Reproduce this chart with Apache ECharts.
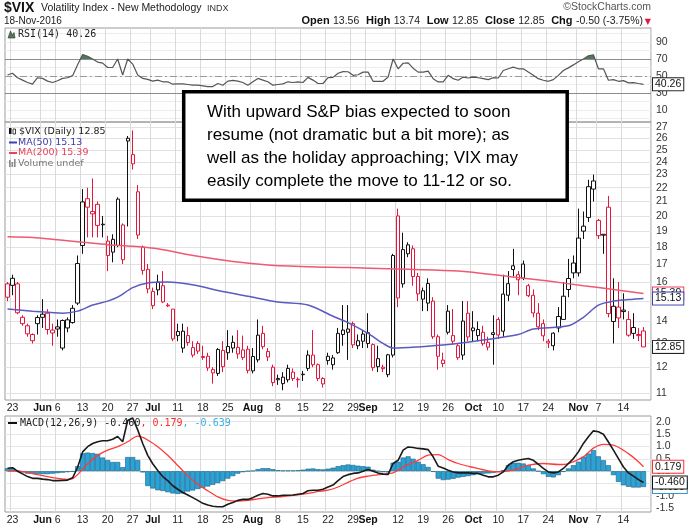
<!DOCTYPE html>
<html>
<head>
<meta charset="utf-8">
<title>$VIX daily</title>
<script src="https://cdn.jsdelivr.net/npm/echarts@6/dist/echarts.min.js"></script>
<style>
  html, body { margin: 0; padding: 0; background: #fff; }
  #VixChart { width: 700px; height: 530px; }
</style>
</head>
<body>
<div id="VixChart"></div>
<script>
// trading days shown on the chart (2016)
var dates = ['05-20','05-23','05-24','05-25','05-26','05-27','05-31',
  '06-01','06-02','06-03','06-06','06-07','06-08','06-09','06-10','06-13','06-14','06-15','06-16','06-17','06-20','06-21','06-22','06-23','06-24','06-27','06-28','06-29','06-30',
  '07-01','07-05','07-06','07-07','07-08','07-11','07-12','07-13','07-14','07-15','07-18','07-19','07-20','07-21','07-22','07-25','07-26','07-27','07-28','07-29',
  '08-01','08-02','08-03','08-04','08-05','08-08','08-09','08-10','08-11','08-12','08-15','08-16','08-17','08-18','08-19','08-22','08-23','08-24','08-25','08-26','08-29','08-30','08-31',
  '09-01','09-02','09-06','09-07','09-08','09-09','09-12','09-13','09-14','09-15','09-16','09-19','09-20','09-21','09-22','09-23','09-26','09-27','09-28','09-29','09-30',
  '10-03','10-04','10-05','10-06','10-07','10-10','10-11','10-12','10-13','10-14','10-17','10-18','10-19','10-20','10-21','10-24','10-25','10-26','10-27','10-28','10-31',
  '11-01','11-02','11-03','11-04','11-07','11-08','11-09','11-10','11-11','11-14','11-15','11-16','11-17','11-18'];

var opens = [15.9,16.2,15.9,14.2,13.8,13.4,13.9,14.35,14.4,13.6,
  13.75,12.8,13.7,13.95,14.9,18.1,21.2,20.3,20.8,19.45,
  17.5,17.7,18.1,19.4,26.0,24.6,21.7,18.0,16.7,15.5,
  16.0,15.8,14.8,14.6,13.35,12.8,13.35,12.5,13.0,12.4,
  12.45,11.9,11.75,12.7,12.6,12.8,12.55,12.4,12.75,11.85,
  12.3,13.45,12.65,12.0,11.55,11.35,11.5,11.8,11.52,11.72,
  11.95,12.5,12.1,11.55,12.45,12.1,12.6,13.4,13.5,13.9,
  12.9,13.1,13.0,12.95,12.35,12.0,11.7,12.5,20.0,15.9,
  17.6,17.9,16.3,15.1,14.9,15.0,13.3,12.15,13.5,13.35,
  12.9,12.5,14.4,13.7,13.35,13.5,13.05,13.4,14.1,13.55,
  15.3,16.9,16.4,17.0,15.8,15.3,14.4,13.9,13.1,12.9,
  13.7,14.1,15.6,16.5,16.5,19.0,19.9,21.9,19.7,18.8,
  20.6,14.0,14.7,14.55,14.1,13.45,13.4,13.56];
var closes = [15.2,15.82,14.42,13.90,13.43,13.12,14.19,14.20,13.63,13.47,
  13.65,14.05,14.08,14.64,17.03,20.97,20.6,20.14,19.37,19.41,
  18.37,18.48,21.17,17.25,25.76,23.85,18.75,16.64,15.63,14.77,
  15.58,14.96,14.76,13.20,13.54,13.55,13.04,12.82,12.67,12.44,
  11.97,11.77,12.74,12.02,12.87,13.05,12.83,12.72,11.87,12.44,
  13.37,12.86,12.42,11.39,11.50,11.6,11.95,11.55,11.5,11.7,
  12.5,12.1,11.55,11.34,12.27,12.38,13.45,13.6,13.65,12.94,
  13.12,13.42,13.48,11.98,12.02,11.94,12.51,17.50,15.16,17.85,
  18.14,16.30,15.37,15.53,15.92,13.30,12.45,12.29,14.50,13.10,
  12.39,14.02,13.29,13.57,13.63,12.99,12.84,13.48,13.38,15.36,
  15.91,16.69,16.12,16.21,15.28,14.41,13.75,13.34,13.02,13.46,
  14.24,15.25,16.19,17.06,18.56,19.32,22.08,22.51,18.71,18.74,
  14.38,14.74,14.17,14.48,13.37,13.72,13.35,12.85];
var lows = [15.0,15.3,14.35,13.8,13.3,13.0,13.4,13.7,13.4,12.9,
  13.3,12.7,13.5,13.9,14.8,17.6,18.6,18.6,18.6,18.6,
  16.6,17.1,18.0,17.0,19.3,23.4,18.5,16.4,15.4,14.6,
  15.3,14.9,14.7,13.1,13.1,12.6,12.9,12.4,12.55,12.3,
  11.85,11.35,11.65,11.8,12.3,12.6,12.35,12.3,11.75,11.75,
  12.2,12.75,12.25,11.25,11.3,11.1,11.4,11.45,11.2,11.45,
  11.85,12.0,11.45,11.2,12.1,11.9,12.55,12.9,12.3,12.8,
  12.75,12.8,12.8,11.85,11.8,11.8,11.6,12.4,14.7,15.7,
  17.4,15.8,15.0,14.5,14.5,13.2,11.9,12.0,13.4,12.95,
  12.3,12.3,13.1,13.1,13.1,12.9,12.7,12.1,13.2,13.3,
  15.0,16.3,15.3,16.1,15.2,14.2,13.6,13.1,12.8,12.7,
  13.5,14.1,15.2,16.2,16.3,18.5,19.6,21.0,18.5,17.6,
  14.2,13.0,13.7,14.1,13.3,13.2,13.1,12.85];
var highs = [16.0,16.4,16.0,14.3,13.9,13.45,14.3,15.1,14.6,13.9,
  14.1,14.1,14.2,14.8,17.5,21.9,22.0,22.7,21.0,20.0,
  18.7,18.8,21.3,19.5,26.2,26.7,22.2,18.1,17.0,15.7,
  16.4,16.6,14.9,14.6,13.9,13.9,13.75,13.1,13.1,12.9,
  12.6,12.0,12.8,13.1,13.6,13.35,13.6,13.35,12.9,12.8,
  14.1,13.8,12.8,12.1,11.7,11.8,12.1,11.95,11.6,11.85,
  12.7,13.6,12.15,11.6,12.6,12.5,13.7,14.8,14.8,14.0,
  13.4,13.6,14.4,13.0,12.9,12.1,12.55,17.6,20.5,18.9,
  18.3,18.1,16.5,15.7,16.2,15.2,13.4,12.6,14.8,14.6,
  13.0,15.0,15.0,14.5,14.0,13.8,13.3,14.3,14.2,16.4,
  16.6,17.9,16.6,17.2,15.9,15.6,14.9,14.1,13.2,13.5,
  14.7,16.0,17.3,17.5,20.5,20.3,22.6,23.0,19.8,18.8,
  21.4,16.2,16.0,15.4,14.5,14.4,13.7,13.74];

// moving averages, [day index, value]
var ma50 = [[0,14.6],[5,14.5],[11,14.4],[14,14.5],[17,14.8],[20,15.0],[22,15.2],[25,15.7],[28,15.95],[32,16.0],
  [38,15.8],[42,15.55],[48,15.25],[54,14.95],[60,14.8],[65,14.25],[68,13.95],[72,13.45],[75,13.0],[77,12.8],
  [82,12.85],[88,12.95],[95,13.15],[102,13.4],[105,13.65],[112,13.8],[115,14.2],[118,14.8],[121,15.0],[125,15.1],[127,15.13]];
var ma200 = [[0,18.65],[5,18.6],[10,18.45],[15,18.3],[20,18.15],[25,18.05],[30,17.9],[38,17.45],[45,17.15],[52,16.95],
  [60,16.85],[68,16.8],[80,16.7],[90,16.6],[100,16.3],[108,16.05],[115,15.8],[121,15.6],[127,15.39]];

var rsi = [51.2,53.2,48,45.2,42.4,40.4,48,47.2,44,42.4,
  44.4,47.2,48,50.4,63.2,75.2,73.2,70,66.4,65.2,
  60,60,70,51.2,70,64,51.2,47.2,46,44,
  45.2,43.2,43.2,40.4,40.8,40.8,40,39.2,39.2,38.4,
  37.6,37.6,41.2,39.2,44,44.8,44,42.4,39.2,43.2,
  47.2,45.2,43.2,39.2,40,40.8,43.2,42.4,43.2,42.4,
  48.4,45.2,41.2,41.2,48,48.4,53.2,55.2,55,50.8,
  51.5,54.6,54.6,43.8,43.8,43.8,48.8,70,58.5,65,
  65.4,59.2,54.6,54.6,55.8,46.9,43,43,50.8,46.9,
  45,48.8,47.7,48.8,48,46.9,45.8,48,47.7,56.5,
  58.5,60.4,58.5,58.5,54.6,50.8,46.9,45,43.8,45.8,
  50.8,56.5,59.6,63.1,66.9,70,73.8,75,58.5,58.5,
  45,45.8,43.8,44.6,41.9,42.3,41.2,40.26];

var macd = [0.12,0.14,0.0,-0.11,-0.22,-0.29,-0.29,-0.32,-0.34,-0.38,
  -0.38,-0.37,-0.36,-0.27,0.16,0.78,0.99,1.12,1.19,1.23,
  1.23,1.29,1.40,1.19,2.05,2.15,1.67,1.12,0.64,0.30,
  0.03,-0.22,-0.38,-0.59,-0.73,-0.86,-0.96,-1.07,-1.18,-1.30,
  -1.37,-1.42,-1.44,-1.44,-1.34,-1.27,-1.18,-1.14,-1.14,-1.07,
  -0.97,-0.90,-0.93,-1.0,-1.0,-0.97,-0.97,-0.96,-0.93,-0.9,
  -0.79,-0.77,-0.77,-0.73,-0.64,-0.56,-0.38,-0.22,-0.14,-0.09,
  -0.07,0.0,0.07,0.0,-0.07,-0.12,-0.13,0.31,0.44,0.85,
  0.98,0.96,0.92,0.9,0.87,0.58,0.20,0.13,0.04,-0.03,
  -0.07,-0.07,-0.07,-0.09,-0.09,-0.16,-0.23,-0.23,-0.16,-0.03,
  0.24,0.38,0.44,0.48,0.51,0.44,0.28,0.11,-0.03,-0.07,
  -0.03,0.11,0.31,0.51,0.78,1.12,1.39,1.63,1.59,1.49,
  1.18,0.85,0.51,0.17,-0.07,-0.20,-0.34,-0.46];
var signal = [[0,0.0],[2,0.0],[4,-0.05],[6,-0.14],[8,-0.22],[10,-0.29],[12,-0.33],[13,-0.3],[14,-0.14],[16,0.3],
  [18,0.64],[20,0.85],[22,0.99],[24,1.19],[26,1.42],[27,1.37],[28,1.26],[30,0.99],[32,0.64],[34,0.23],
  [36,-0.18],[38,-0.53],[40,-0.79],[42,-1.04],[44,-1.18],[46,-1.21],[48,-1.18],[50,-1.12],[52,-1.07],[54,-1.04],
  [56,-1.0],[58,-0.96],[60,-0.9],[62,-0.82],[64,-0.77],[66,-0.64],[68,-0.45],[70,-0.28],[72,-0.2],[75,-0.12],
  [77,-0.07],[79,0.17],[82,0.44],[84,0.65],[86,0.67],[88,0.47],[90,0.31],[93,0.15],[96,0.01],[98,-0.03],
  [101,0.04],[104,0.24],[107,0.31],[110,0.27],[112,0.31],[115,0.58],[117,0.93],[119,1.08],[121,1.05],[124,0.71],
  [126,0.38],[127,0.179]];
var hist = [0.12,0.13,0.02,-0.05,-0.1,-0.1,-0.11,-0.12,-0.12,-0.1,
  -0.08,-0.06,-0.04,-0.02,0.2,0.72,0.75,0.73,0.7,0.55,
  0.45,0.37,0.37,0.16,0.57,0.57,0.45,-0.05,-0.6,-0.7,
  -0.77,-0.8,-0.85,-0.9,-0.92,-0.9,-0.82,-0.78,-0.72,-0.68,
  -0.62,-0.55,-0.48,-0.4,-0.3,-0.2,-0.1,-0.04,0.0,0.02,
  0.08,0.12,0.12,0.08,0.04,0.03,0.03,0.03,0.04,0.06,
  0.1,0.11,0.08,0.07,0.1,0.14,0.2,0.24,0.27,0.25,
  0.22,0.2,0.18,0.06,0.0,-0.04,-0.05,0.34,0.38,0.55,
  0.6,0.5,0.38,0.28,0.17,-0.03,-0.3,-0.36,-0.34,-0.31,
  -0.26,-0.23,-0.2,-0.16,-0.12,-0.1,-0.09,-0.07,-0.03,0.04,
  0.24,0.34,0.34,0.31,0.24,0.11,0.0,-0.12,-0.23,-0.25,
  -0.16,-0.03,0.11,0.24,0.38,0.58,0.71,0.85,0.6,0.44,
  0.24,-0.16,-0.43,-0.57,-0.63,-0.66,-0.66,-0.639];

// x axis labels: [date, text]
var tickLabels = [['05-23','23'],['06-01','Jun'],['06-06','6'],['06-13','13'],['06-20','20'],['06-27','27'],
  ['07-01','Jul'],['07-11','11'],['07-18','18'],['07-25','25'],['08-01','Aug'],['08-08','8'],['08-15','15'],
  ['08-22','22'],['08-29','29'],['09-01','Sep'],['09-12','12'],['09-19','19'],['09-26','26'],['10-03','Oct'],
  ['10-10','10'],['10-17','17'],['10-24','24'],['11-01','Nov'],['11-07','7'],['11-14','14']];
var priceTicks = [11,12,13,14,15,16,17,18,19,20,21,22,23,24,25,26,27];
var rsiTicks = [10,30,50,70,90];
var rsiGrid = [0,10,20,30,40,50,60,70,80,90,100];
var macdTicks = [-1.5,-1,-0.5,0,0.5,1,1.5,2];

var RED = '#e3163c';
var FONT = 'Liberation Sans';

var labelMap = {};
tickLabels.forEach(function (t) { labelMap[t[0]] = t[1]; });
var cats = dates.concat([' ']);   // one empty slot of margin on the right

// StockCharts colouring: black if close >= previous close, red otherwise; hollow when close > open
var candleData = dates.map(function (d, i) {
    var col = (i > 0 && closes[i] >= closes[i - 1]) ? '#111' : RED;
    return {
        value: [opens[i], closes[i], lows[i], highs[i]],
        itemStyle: { color: '#fff', color0: col, borderColor: col, borderColor0: col }
    };
});

function hasLabel(idx, val) { return labelMap[val] !== undefined; }

function makeX(gridIndex, showLabels) {
    return {
        type: 'category', gridIndex: gridIndex, data: cats, boundaryGap: true,
        axisLine: { show: false }, axisTick: { show: false },
        axisLabel: {
            show: showLabels, interval: hasLabel, margin: 3,
            fontFamily: FONT, fontSize: 10.5, color: '#222',
            formatter: function (v) {
                var t = labelMap[v];
                return isNaN(+t) ? '{m|' + t + '}' : t;
            },
            rich: { m: { fontFamily: FONT, fontSize: 10.5, fontWeight: 'bold', color: '#111' } }
        },
        splitLine: { show: true, interval: hasLabel, lineStyle: { color: '#dadada', width: 1 } }
    };
}

var HIDDEN_LINE = { color: 'rgba(0,0,0,0)', width: 1, type: 'solid' };

function tagLabel(text, color) {
    return {
        show: true, position: 'end', distance: 2, formatter: text,
        color: '#111', fontFamily: FONT, fontSize: 10.5,
        backgroundColor: '#fff', borderColor: color, borderWidth: 1, padding: [1, 2, 0, 2]
    };
}

function tag(val, text, color) {
    return {
        symbol: ['none', 'none'], silent: true, animation: false, z: 20,
        lineStyle: HIDDEN_LINE,
        label: tagLabel(text, color),
        data: [{ yAxis: val }]
    };
}

var yLabel = { fontFamily: FONT, fontSize: 10.5, color: '#333', margin: 5 };

var VixChart = echarts.init(document.getElementById('VixChart'));

var option = {
    animation: false,
    backgroundColor: '#fff',
    grid: [
        { left: 5, top: 28, width: 646, height: 94, show: true, borderColor: '#9a9a9a', borderWidth: 1 },
        { left: 5, top: 122, width: 646, height: 278, show: true, borderColor: '#9a9a9a', borderWidth: 1 },
        { left: 5, top: 416, width: 646, height: 96, show: true, borderColor: '#9a9a9a', borderWidth: 1 }
    ],
    xAxis: [makeX(0, false), makeX(1, true), makeX(2, true)],
    yAxis: [
        {
            type: 'value', gridIndex: 0, position: 'right', min: -4.1, max: 106.5,
            axisLine: { show: false },
            axisTick: { show: false, customValues: rsiGrid },
            axisLabel: Object.assign({ customValues: rsiTicks }, yLabel),
            splitLine: { lineStyle: { color: '#ececec' } }
        },
        {
            type: 'log', logBase: 10, gridIndex: 1, position: 'right', min: 10.74, max: 27.47,
            axisLine: { show: false },
            axisTick: { show: false, customValues: priceTicks },
            axisLabel: Object.assign({ customValues: priceTicks, formatter: function (v) { return Math.round(v); } }, yLabel),
            splitLine: { lineStyle: { color: '#e2e2e2' } }
        },
        {
            type: 'value', gridIndex: 2, position: 'right', min: -1.65, max: 2.23,
            axisLine: { show: false },
            axisTick: { show: false, customValues: macdTicks },
            axisLabel: Object.assign({ customValues: macdTicks, formatter: function (v) { return v.toFixed(1); } }, yLabel),
            splitLine: { lineStyle: { color: '#e6e6e6' } }
        }
    ],
    // shade the RSI above 70 only
    visualMap: [{
        type: 'piecewise', show: false, seriesIndex: 0, dimension: 1,
        pieces: [
            { min: -50, max: 70, color: 'rgba(255,255,255,0)' },
            { min: 70, max: 150, color: '#4d7a58' }
        ]
    }],
    series: [
        {
            type: 'line', xAxisIndex: 0, yAxisIndex: 0, data: rsi, showSymbol: false, silent: true, z: 1,
            lineStyle: { width: 0 }, areaStyle: { origin: 70, opacity: 1 }
        },
        {
            name: 'RSI', type: 'line', xAxisIndex: 0, yAxisIndex: 0, data: rsi, showSymbol: false, z: 3,
            lineStyle: { color: '#555', width: 1.2 }, itemStyle: { color: '#555' },
            markLine: {
                symbol: ['none', 'none'], silent: true, animation: false, z: 2,
                label: { show: false },
                data: [
                    { yAxis: 70, lineStyle: { color: '#8c8c8c', width: 1, type: 'solid' } },
                    { yAxis: 30, lineStyle: { color: '#8c8c8c', width: 1, type: 'solid' } },
                    { yAxis: 50, lineStyle: { color: '#9a9a9a', width: 1, type: [7, 3, 2, 3] } },
                    { yAxis: 40.26, lineStyle: HIDDEN_LINE, label: tagLabel('40.26', '#222') }
                ]
            }
        },
        {
            name: '$VIX', type: 'candlestick', xAxisIndex: 1, yAxisIndex: 1, data: candleData,
            barWidth: 3.8, itemStyle: { borderWidth: 1 },
            markLine: tag(12.85, '12.85', '#222')
        },
        {
            name: 'MA(200)', type: 'line', xAxisIndex: 1, yAxisIndex: 1, data: ma200, showSymbol: false, smooth: 0.3,
            lineStyle: { color: '#ee5a72', width: 1.5 }, itemStyle: { color: '#ee5a72' },
            markLine: tag(15.39, '15.39', '#ee4060')
        },
        {
            name: 'MA(50)', type: 'line', xAxisIndex: 1, yAxisIndex: 1, data: ma50, showSymbol: false, smooth: 0.3,
            lineStyle: { color: '#5a5ac0', width: 1.5 }, itemStyle: { color: '#5a5ac0' },
            markLine: tag(15.13, '15.13', '#4040b0')
        },
        {
            name: 'Histogram', type: 'bar', xAxisIndex: 2, yAxisIndex: 2, data: hist, barCategoryGap: '0%',
            itemStyle: { color: '#2aa3d9', borderColor: '#16607f', borderWidth: 0.6 },
            markLine: tag(-0.639, '-0.639', '#3399cc')
        },
        {
            name: 'Signal', type: 'line', xAxisIndex: 2, yAxisIndex: 2, data: signal, showSymbol: false, smooth: 0.3,
            lineStyle: { color: '#ff3b3b', width: 1.3 }, itemStyle: { color: '#ff3b3b' },
            markLine: tag(0.179, '0.179', '#ff3030')
        },
        {
            name: 'MACD', type: 'line', xAxisIndex: 2, yAxisIndex: 2, data: macd, showSymbol: false,
            lineStyle: { color: '#1a1a1a', width: 1.6 }, itemStyle: { color: '#1a1a1a' },
            markLine: tag(-0.46, '-0.460', '#111')
        }
    ],
    graphic: [
        // header
        { type: 'text', x: 4, y: 8, style: { text: '$VIX', font: 'bold 14px "Liberation Sans"', fill: '#111', verticalAlign: 'middle' } },
        { type: 'text', x: 41, y: 8.5, style: { text: 'Volatility Index - New Methodology', font: '10.5px "Liberation Sans"', fill: '#222', verticalAlign: 'middle' } },
        { type: 'text', x: 207, y: 8.5, style: { text: 'INDX', font: '9px "Liberation Sans"', fill: '#333', verticalAlign: 'middle' } },
        { type: 'text', x: 651, y: 7, style: { text: '©StockCharts.com', font: '10.5px "Liberation Sans"', fill: '#555', align: 'right', verticalAlign: 'middle' } },
        { type: 'text', x: 4, y: 21, style: { text: '18-Nov-2016', font: '10px "Liberation Sans"', fill: '#222', verticalAlign: 'middle' } },
        {
            type: 'text', x: 643, y: 21,
            style: {
                text: '{b|Open} {v|13.56}  {b|High} {v|13.74}  {b|Low} {v|12.85}  {b|Close} {v|12.85}  {b|Chg} {v|-0.50 (-3.75%)}',
                align: 'right', verticalAlign: 'middle',
                rich: {
                    b: { font: 'bold 11px "Liberation Sans"', fill: '#111' },
                    v: { font: '10.5px "Liberation Sans"', fill: '#222' }
                }
            }
        },
        { type: 'text', x: 651, y: 21.5, style: { text: '▼', font: '8px "DejaVu Sans"', fill: RED, align: 'right', verticalAlign: 'middle' } },

        // RSI panel title
        { type: 'polygon', shape: { points: [[8, 38], [10.5, 31], [12.5, 35], [14, 32.5], [15, 38]] }, style: { fill: '#4d7a58', stroke: '#333', lineWidth: 0.6 }, z: 50 },
        { type: 'text', x: 18, y: 34.5, style: { text: 'RSI(14) 40.26', font: '10px "DejaVu Sans Mono"', fill: '#222', verticalAlign: 'middle' }, z: 50 },

        // price panel legend
        { type: 'rect', shape: { x: 9, y: 128, width: 2.5, height: 6 }, style: { fill: '#111' }, z: 50 },
        { type: 'rect', shape: { x: 13, y: 129, width: 2.5, height: 5 }, style: { fill: '#fff', stroke: '#111', lineWidth: 0.8 }, z: 50 },
        { type: 'text', x: 19, y: 131.5, style: { text: '$VIX (Daily) 12.85', font: '9.5px "DejaVu Sans"', fill: '#222', verticalAlign: 'middle' }, z: 50 },
        { type: 'line', shape: { x1: 9, y1: 142.5, x2: 17, y2: 142.5 }, style: { stroke: '#4040b0', lineWidth: 2 }, z: 50 },
        { type: 'text', x: 18, y: 142.5, style: { text: 'MA(50) 15.13', font: '9.5px "DejaVu Sans"', fill: '#3c3ca8', verticalAlign: 'middle' }, z: 50 },
        { type: 'line', shape: { x1: 9, y1: 153, x2: 17, y2: 153 }, style: { stroke: '#ee4060', lineWidth: 2 }, z: 50 },
        { type: 'text', x: 18, y: 153, style: { text: 'MA(200) 15.39', font: '9.5px "DejaVu Sans"', fill: '#e8405a', verticalAlign: 'middle' }, z: 50 },
        { type: 'rect', shape: { x: 9, y: 160, width: 1.6, height: 7 }, style: { fill: '#888' }, z: 50 },
        { type: 'rect', shape: { x: 11.5, y: 162, width: 1.6, height: 5 }, style: { fill: '#888' }, z: 50 },
        { type: 'rect', shape: { x: 14, y: 159, width: 1.6, height: 8 }, style: { fill: '#888' }, z: 50 },
        { type: 'text', x: 18, y: 163.5, style: { text: 'Volume undef', font: '9.5px "DejaVu Sans"', fill: '#777', verticalAlign: 'middle' }, z: 50 },

        // MACD panel title
        { type: 'line', shape: { x1: 8, y1: 423, x2: 17, y2: 423 }, style: { stroke: '#111', lineWidth: 2 }, z: 50 },
        {
            type: 'text', x: 20, y: 423, z: 50,
            style: {
                text: '{k|MACD(12,26,9) -0.460}{r|, 0.179}{c|, -0.639}', verticalAlign: 'middle',
                rich: {
                    k: { font: '10px "DejaVu Sans Mono"', fill: '#222' },
                    r: { font: '10px "DejaVu Sans Mono"', fill: '#ff2a2a' },
                    c: { font: '10px "DejaVu Sans Mono"', fill: '#3ab0e0' }
                }
            }
        },

        // annotation box
        { type: 'rect', z: 100, shape: { x: 183.7, y: 91.7, width: 383.5, height: 108.6 }, style: { fill: '#fff', stroke: '#000', lineWidth: 3.5 } },
        { type: 'text', z: 101, x: 207, y: 112, style: { text: 'With upward S&P bias expected to soon', font: '17px "Liberation Sans"', fill: '#000', verticalAlign: 'middle' } },
        { type: 'text', z: 101, x: 207, y: 135, style: { text: 'resume (not dramatic but a bit more); as', font: '17px "Liberation Sans"', fill: '#000', verticalAlign: 'middle' } },
        { type: 'text', z: 101, x: 207, y: 158, style: { text: 'well as the holiday approaching; VIX may', font: '17px "Liberation Sans"', fill: '#000', verticalAlign: 'middle' } },
        { type: 'text', z: 101, x: 207, y: 181, style: { text: 'easily complete the move to 11-12 or so.', font: '17px "Liberation Sans"', fill: '#000', verticalAlign: 'middle' } }
    ]
};

VixChart.setOption(option);
</script>
</body>
</html>
